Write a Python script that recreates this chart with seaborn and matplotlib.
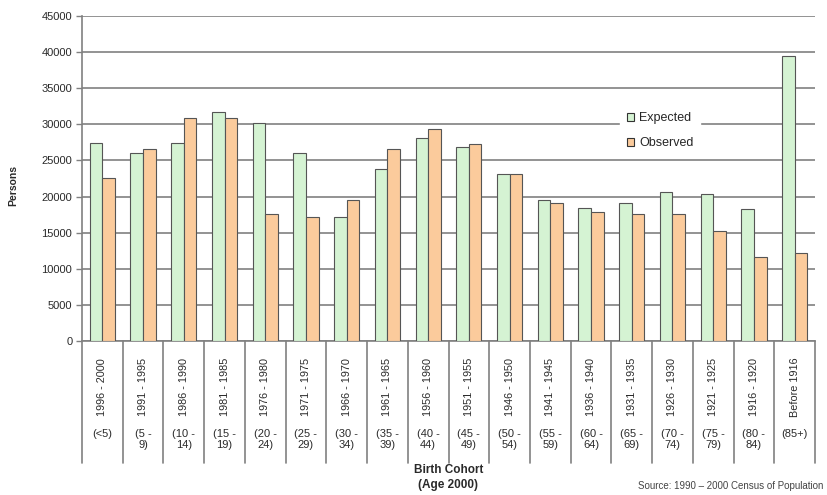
import matplotlib
matplotlib.use("Agg")
import matplotlib.pyplot as plt
import matplotlib.transforms as mtransforms
import seaborn as sns
import pandas as pd

# Birth cohorts and their age in 2000
cohorts = ["1996 - 2000", "1991 - 1995", "1986 - 1990", "1981 - 1985", "1976 - 1980",
           "1971 - 1975", "1966 - 1970", "1961 - 1965", "1956 - 1960", "1951 - 1955",
           "1946 - 1950", "1941 - 1945", "1936 - 1940", "1931 - 1935", "1926 - 1930",
           "1921 - 1925", "1916 - 1920", "Before 1916"]
ages = ["(<5)", "(5 -\n9)", "(10 -\n14)", "(15 -\n19)", "(20 -\n24)", "(25 -\n29)",
        "(30 -\n34)", "(35 -\n39)", "(40 -\n44)", "(45 -\n49)", "(50 -\n54)", "(55 -\n59)",
        "(60 -\n64)", "(65 -\n69)", "(70 -\n74)", "(75 -\n79)", "(80 -\n84)", "(85+)"]

expected = [27400, 26000, 27400, 31700, 30200, 26000, 17200, 23800, 28100,
            26900, 23100, 19500, 18400, 19100, 20600, 20400, 18300, 39500]
observed = [22600, 26600, 30900, 30900, 17600, 17200, 19500, 26600, 29300,
            27300, 23100, 19100, 17900, 17600, 17600, 15200, 11600, 12200]

y_ticks = list(range(0, 45001, 5000))

df = pd.DataFrame({
    "cohort": cohorts * 2,
    "persons": expected + observed,
    "series": ["Expected"] * len(cohorts) + ["Observed"] * len(cohorts),
})

sns.set_style("white")
plt.rcParams["font.family"] = ["Liberation Sans", "DejaVu Sans"]

fig = plt.figure(figsize=(8.27, 4.95), dpi=100)
W, H = 827, 495
x0, x1, y0, y1 = 82, 815, 341, 16
ax = fig.add_axes([x0 / W, 1 - y0 / H, (x1 - x0) / W, (y0 - y1) / H])

grid_c = "#808080"
text_c = "#2a2a2a"
sns.barplot(data=df, x="cohort", y="persons", hue="series",
            palette=["#d5f3d3", "#fbcb9c"], saturation=1, width=0.62, gap=0,
            edgecolor="#555555", linewidth=0.8, ax=ax, zorder=3)

ax.set_ylim(0, 45000)
ax.set_xlim(-0.5, len(cohorts) - 0.5)
ax.set_yticks(y_ticks)
ax.set_yticklabels([str(v) for v in y_ticks], fontsize=8, color=text_c)
ax.yaxis.grid(True, color=grid_c, linewidth=1.2, zorder=0)
ax.set_axisbelow(True)
ax.tick_params(axis="y", length=4, width=1.0, color=grid_c, pad=3, left=True)
ax.tick_params(axis="x", length=0, labelbottom=False)
ax.set_xlabel("")
ax.set_ylabel("Persons", fontsize=7.5, fontweight="bold", color=text_c)
ax.yaxis.set_label_coords((18 - x0) / (x1 - x0), (y0 - 186) / (y0 - y1))

for side in ("top", "right"):
    ax.spines[side].set_visible(False)
for side in ("left", "bottom"):
    ax.spines[side].set_color(grid_c)
    ax.spines[side].set_linewidth(1.2)

# Two-row category axis: cohort years (rotated) and age in 2000
trans = mtransforms.blended_transform_factory(ax.transData, ax.transAxes)
for i, (c, a) in enumerate(zip(cohorts, ages)):
    ax.text(i, -0.142, c, rotation=90, ha="center", va="center",
            fontsize=7.8, color=text_c, transform=trans)
    ax.text(i, -0.27, a, ha="center", va="top", fontsize=8,
            color=text_c, linespacing=1.15, transform=trans)
for b in range(len(cohorts) + 1):
    ax.plot([b - 0.5, b - 0.5], [0, -0.375], color=grid_c, linewidth=1.2,
            transform=trans, clip_on=False)

fig.text(0.5 * (x0 + x1) / W, 1 - 470 / H, "Birth Cohort", ha="center", va="center",
         fontsize=8.5, fontweight="bold", color=text_c)
fig.text(0.5 * (x0 + x1) / W, 1 - 485 / H, "(Age 2000)", ha="center", va="center",
         fontsize=8.5, fontweight="bold", color=text_c)
fig.text(823 / W, 1 - 486 / H, "Source: 1990 \u2013 2000 Census of Population",
         ha="right", va="center", fontsize=7, color="#444444")

leg = ax.legend(loc="upper left", bbox_to_anchor=((614 - x0) / (x1 - x0), (y0 - 100) / (y0 - y1)),
                frameon=True, fontsize=9, handlelength=0.6, handleheight=0.6,
                handletextpad=0.4, labelspacing=1.0, borderpad=0.5)
leg.get_frame().set_edgecolor("white")
leg.get_frame().set_facecolor("white")
leg.get_frame().set_alpha(1)
leg.set_zorder(5)
for h in leg.legend_handles:
    h.set_edgecolor("#333333")
    h.set_linewidth(0.8)

fig.savefig("out.png", dpi=100, facecolor="white")
